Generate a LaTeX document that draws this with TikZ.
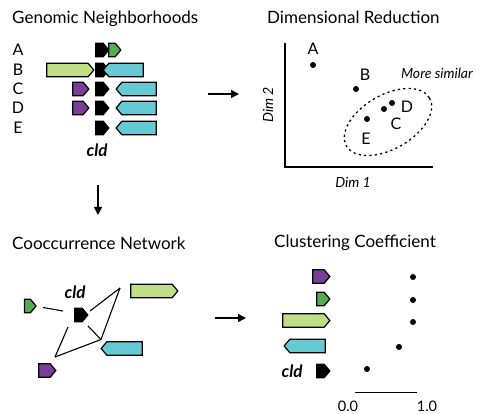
\documentclass[tikz,border=0pt]{standalone}
\usepackage{fontspec}
\setmainfont{Lato}
\usetikzlibrary{shapes.symbols,arrows.meta}
\definecolor{ggreen}{RGB}{84,172,84}
\definecolor{lgreen}{RGB}{192,222,134}
\definecolor{gcyan}{RGB}{102,202,212}
\definecolor{gpurple}{RGB}{122,62,152}
\tikzset{
  gene/.style={shape=signal, draw=black, line width=1.2pt, inner sep=0pt,
    minimum height=13.5pt, signal pointer angle=100},
  genr/.style={gene, signal to=east},
  genl/.style={gene, signal to=west},
  cldg/.style={genr, fill=black, minimum width=13pt},
  title/.style={font=\fontsize{17}{20}\selectfont, inner sep=0pt},
  rowlab/.style={font=\fontsize{16}{18}\selectfont, inner sep=0pt},
  ticklab/.style={font=\fontsize{14.5}{16}\selectfont, inner sep=0pt, anchor=base},
  cldlab/.style={font=\fontsize{17}{19}\selectfont\bfseries\itshape, inner sep=0pt},
  small/.style={font=\fontsize{14}{16}\selectfont\itshape, inner sep=0pt},
  dot/.style={circle, fill=black, inner sep=0pt, minimum size=6pt},
  edge/.style={line width=1.1pt},
  flow/.style={line width=1.3pt, -{Triangle[length=8pt,width=8pt]}},
}
\begin{document}
\begin{tikzpicture}[x=1pt,y=-1pt]
\useasboundingbox (0,0) rectangle (479,414);
% titles
\node[title, anchor=west] (t1) at (12,19) {Genomic Neighborhoods};
\node[title, anchor=west] (t2) at (267,17) {Dimensional Reduction};
\node[title, anchor=west] (t3) at (12,243) {Cooccurrence Network};
\node[title, anchor=west] (t4) at (274,243) {Clustering Coefficient};
% panel 1
\foreach \l/\y in {A/50,B/70,C/89,D/108,E/128}{
  \node[rowlab] (r\l) at (18,\y) {\l};
  \node[cldg] (k\l) at (99.5,\y) {};
}
\node[genr, fill=ggreen, minimum width=12pt] (gA) at (112,50) {};
\node[genr, fill=lgreen, minimum width=47pt] (lgB) at (67.5,70) {};
\node[genl, fill=gcyan, minimum width=40pt] (cyB) at (126,70) {};
\node[genr, fill=gpurple, minimum width=16pt] (puC) at (78,89) {};
\node[genl, fill=gcyan, minimum width=40pt] (cyC) at (139,89) {};
\node[genr, fill=gpurple, minimum width=16pt] (puD) at (78,108) {};
\node[genl, fill=gcyan, minimum width=40pt] (cyD) at (139,108) {};
\node[genl, fill=gcyan, minimum width=40pt] (cyE) at (139,128) {};
\node[cldlab] (cld1) at (97,150) {cld};
% arrows
\coordinate (a1s) at (208,94); \coordinate (a1e) at (239,94);
\draw[flow] (a1s) -- (a1e);
\coordinate (a2s) at (98,185); \coordinate (a2e) at (98,215);
\draw[flow] (a2s) -- (a2e);
\coordinate (a3s) at (215,318); \coordinate (a3e) at (246,318);
\draw[flow] (a3s) -- (a3e);
% panel 2
\coordinate (ytop) at (285,43); \coordinate (orig) at (285,167); \coordinate (xend) at (433,167);
\draw[line width=1.2pt] (ytop) -- (orig) -- (xend);
\node[dot] (pA) at (313,65) {};
\node[dot] (pB) at (356,89) {};
\node[dot] (pD) at (392,103) {};
\node[dot] (pC) at (384,109) {};
\node[dot] (pE) at (367,119) {};
\node[rowlab] (lA) at (313,49) {A};
\node[rowlab] (lB) at (365,75) {B};
\node[rowlab] (lD) at (407,107) {D};
\node[rowlab] (lC) at (396,124) {C};
\node[rowlab] (lE) at (366,139) {E};
\draw[line width=1.3pt, dash pattern=on 2.2pt off 3.2pt] (388,122) ellipse[x radius=48, y radius=27, rotate=30];
\node[small] (ms) at (437,73) {More similar};
\node[small] (d1) at (353,182) {Dim 1};
\node[small, rotate=90] (d2) at (268,105) {Dim 2};
% panel 3
\node[cldg] (nk) at (78.5,315) {};
\node[cldlab] (cld3) at (75,292) {cld};
\node[genr, fill=ggreen, minimum width=11.5pt] (ng) at (27.5,306) {};
\node[genr, fill=lgreen, minimum width=47pt] (nlg) at (151.5,291) {};
\node[genl, fill=gcyan, minimum width=41pt] (ncy) at (124.5,348.5) {};
\node[genr, fill=gpurple, minimum width=17pt] (npu) at (44.5,370.5) {};
\coordinate (lgL) at (120,288);
\coordinate (cyL) at (101,339.5);
\coordinate (puR) at (55,357);
\coordinate (kNE) at (90,311);
\coordinate (kSE) at (88,326);
\coordinate (kSW) at (68,327);
\coordinate (kW) at (63,311);
\coordinate (gE) at (43,307.5);
\draw[edge] (gE) -- (kW);
\draw[edge] (kNE) -- (lgL);
\draw[edge] (kSE) -- (cyL);
\draw[edge] (lgL) -- (cyL);
\draw[edge] (puR) -- (cyL);
\draw[edge] (puR) -- (kSW);
% panel 4
\node[genr, fill=gpurple, minimum width=17pt] (cpu) at (318.5,276.5) {};
\node[genr, fill=ggreen, minimum width=13pt] (cg) at (320.5,299) {};
\node[genr, fill=lgreen, minimum width=47pt] (clg) at (303.5,320.5) {};
\node[genl, fill=gcyan, minimum width=41pt] (ccy) at (307.5,346) {};
\node[cldg] (ck) at (320.5,371) {};
\node[cldlab] (cld4) at (292,371) {cld};
\node[dot] (q1) at (413,277) {};
\node[dot] (q2) at (413,300) {};
\node[dot] (q3) at (413,322) {};
\node[dot] (q4) at (399,347) {};
\node[dot] (q5) at (367,369) {};
\coordinate (s0) at (355,392); \coordinate (s1) at (417,392);
\draw[line width=1pt] (s0) -- (s1);
\node[ticklab] (v0) at (348,411.5) {0.0};
\node[ticklab] (v1) at (427,411.5) {1.0};
\end{tikzpicture}
\end{document}
